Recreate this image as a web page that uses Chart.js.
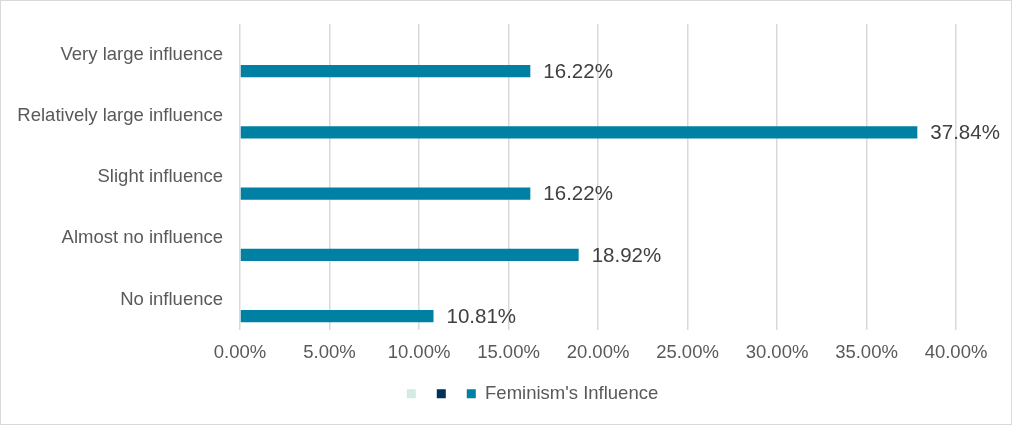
<!DOCTYPE html>
<html>
<head>
<meta charset="utf-8">
<script src="https://cdn.jsdelivr.net/npm/chart.js@4/dist/chart.umd.min.js"></script>
<style>
    body { margin: 0; background: #fff; }
    #wrap { width: 1012px; height: 425px; box-sizing: border-box; border: 1px solid #d9d9d9; background: #fff; }
</style>
</head>
<body>
<div id="wrap"><canvas id="chart" width="1010" height="423"></canvas></div>
<script>
const categories = ['Very large influence', 'Relatively large influence', 'Slight influence', 'Almost no influence', 'No influence'];
const seriesOne = [null, null, null, null, null];
const seriesTwo = [null, null, null, null, null];
const influence = [16.22, 37.84, 16.22, 18.92, 10.81];

const font = {family: '"Liberation Sans", Arial, sans-serif', size: 18.5};

const valueLabels = {
    id: 'valueLabels',
    afterDatasetsDraw(chart) {
        const ctx = chart.ctx;
        const meta = chart.getDatasetMeta(2);
        ctx.save();
        ctx.font = '20.5px "Liberation Sans", Arial, sans-serif';
        ctx.fillStyle = '#404040';
        ctx.textAlign = 'left';
        ctx.textBaseline = 'middle';
        meta.data.forEach((bar, i) => {
            ctx.fillText(influence[i].toFixed(2) + '%', bar.x + 13, bar.y + 1);
        });
        ctx.restore();
    }
};

// Excel puts the legend a bit right of the page centre
const legendShift = {
    id: 'legendShift',
    afterLayout(chart) {
        chart.legend.left += 54;
        chart.legend.right += 54;
    }
};

new Chart(document.getElementById('chart'), {
    type: 'bar',
    data: {
        labels: categories,
        datasets: [{label: '', data: seriesOne, backgroundColor: '#d4ebe5'},
                   {label: '', data: seriesTwo, backgroundColor: '#00315a'},
                   {label: "Feminism's Influence", data: influence, backgroundColor: '#0080a2'}]
    },
    options: {
        indexAxis: 'y',
        responsive: false,
        animation: false,
        categoryPercentage: 0.81,
        barPercentage: 0.74,
        layout: {padding: {left: 0, right: 55, top: 23, bottom: 11}},
        scales: {
            x: {
                min: 0, max: 40,
                grid: {color: '#d9d9d9', lineWidth: 1.5, drawTicks: false},
                border: {display: false},
                ticks: {stepSize: 5, padding: 12, color: '#595959', font: font, callback: v => v.toFixed(2) + '%'},
                afterFit: scale => { scale.height = 42.5; }
            },
            y: {
                grid: {drawOnChartArea: false, drawTicks: true, tickLength: 17, color: 'rgba(0,0,0,0)', tickColor: 'rgba(0,0,0,0)'},
                border: {display: false},
                ticks: {padding: 0, color: '#595959', font: font},
                afterFit: scale => { scale.width = 239; }
            }
        },
        plugins: {
            legend: {
                position: 'bottom',
                labels: {boxWidth: 9, boxHeight: 9, padding: 11.75, color: '#595959', font: font}
            },
            tooltip: {enabled: false}
        }
    },
    plugins: [valueLabels, legendShift]
});
</script>
</body>
</html>
